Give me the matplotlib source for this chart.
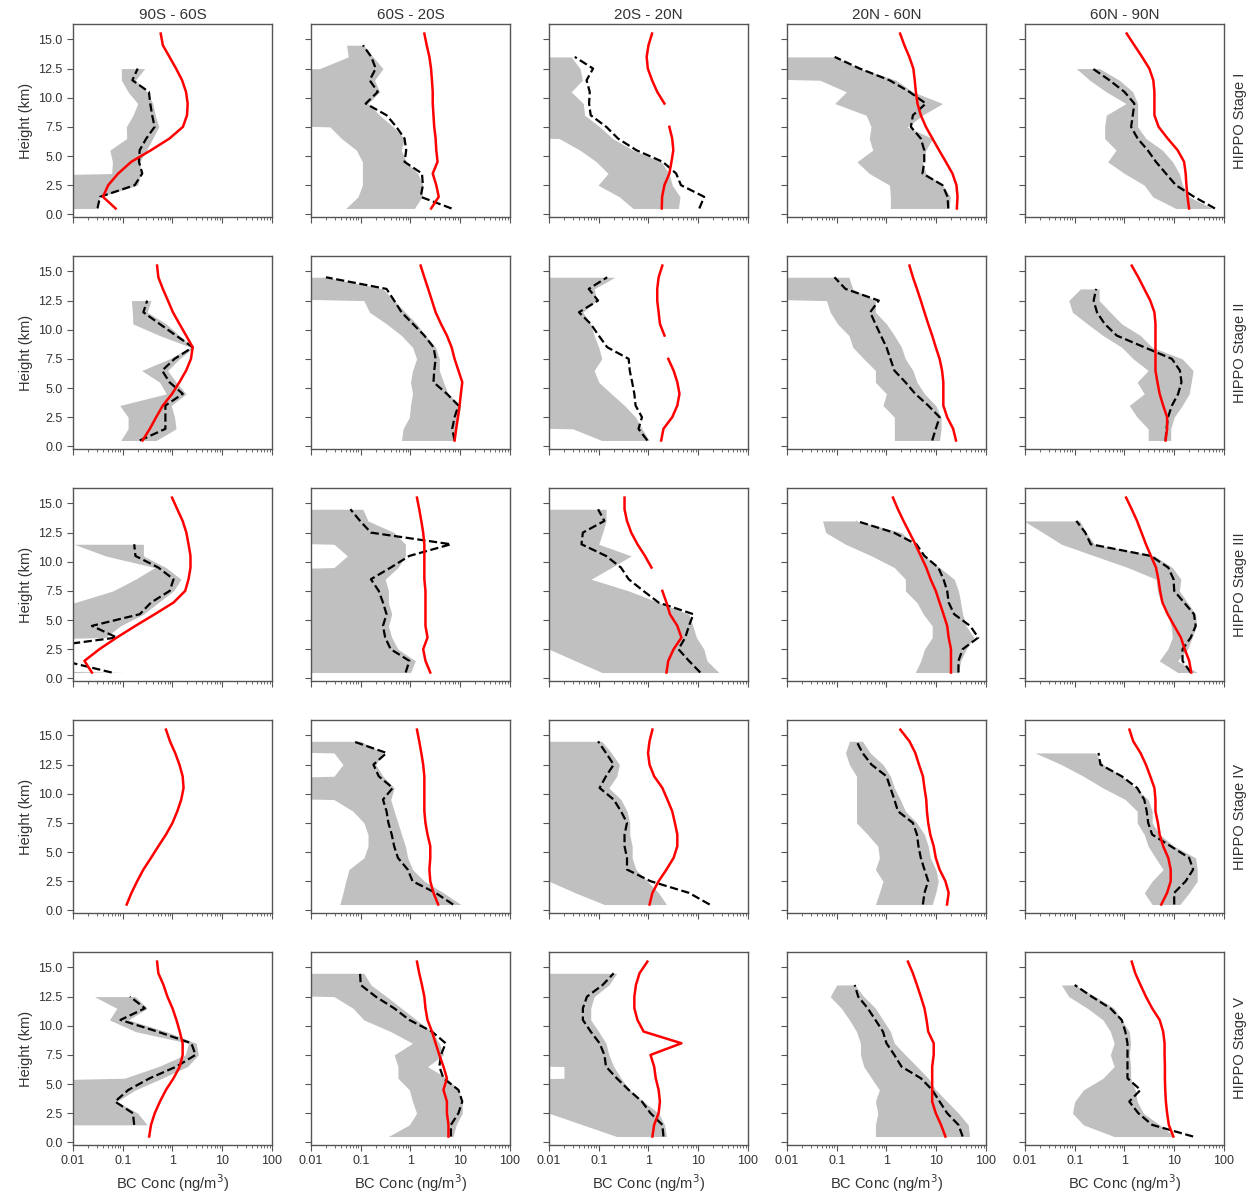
import numpy as np
import matplotlib
matplotlib.use("Agg")
import matplotlib.pyplot as plt
from matplotlib.ticker import LogLocator, NullFormatter

plt.rcParams['font.family'] = ['Liberation Sans', 'DejaVu Sans']

# =============================================================================
# DATA  (BC conc in ng/m3, listed from 0.5 km upward in 1 km steps)
# model: 0.5..15.5 km, obs/lo/hi: 0.5 km up to the top obs level
# 0 in lo/hi = below the axis range, None = missing
# =============================================================================
regions = ["90S - 60S", "60S - 20S", "20S - 20N", "20N - 60N", "60N - 90N"]
stages = ["HIPPO Stage I", "HIPPO Stage II", "HIPPO Stage III",
          "HIPPO Stage IV", "HIPPO Stage V"]

# ---- Stage I
model_I = [
    [0.072, 0.040, 0.051, 0.081, 0.148, 0.37, 0.87, 1.62, 1.96, 2.02, 1.87, 1.56, 1.18, 0.87, 0.64, 0.58],
    [2.6, 3.7, 3.3, 2.8, 3.5, 3.3, 3.2, 3.0, 2.9, 2.8, 2.8, 2.7, 2.59, 2.4, 2.12, 1.9],
    [1.85, 1.88, 2.09, 2.63, 2.9, 3.16, 3.0, 2.63, None, 2.09, 1.5, 1.18, 0.97, 0.92, 1.0, 1.18],
    [26, 26.8, 25.5, 21.2, 15.6, 11.4, 8.4, 6.2, 4.9, 4.2, 3.9, 3.7, 3.47, 2.88, 2.29, 1.88],
    [19.9, 18.5, 17.6, 17.0, 15.8, 11.7, 7.4, 4.86, 4.0, 4.0, 4.0, 3.8, 3.16, 2.26, 1.58, 1.11],
]
obs_I = [
    [0.031, 0.035, 0.174, 0.247, 0.212, 0.219, 0.297, 0.437, 0.39, 0.357, 0.336, 0.156, 0.20],
    [6.7, 1.6, 1.78, 1.7, 0.76, 0.82, 0.76, 0.52, 0.33, 0.126, 0.22, 0.151, 0.20, 0.163, 0.111],
    [10.5, 13.2, 4.5, 3.6, 1.94, 0.57, 0.244, 0.142, 0.069, 0.064, 0.066, 0.057, 0.077, 0.033],
    [17.5, 16.9, 13.4, 5.3, 5.75, 5.75, 4.9, 3.1, 3.4, 6.2, 2.9, 1.15, 0.29, 0.091],
    [66, 25.1, 10.8, 6.8, 4.3, 2.93, 1.84, 1.36, 1.47, 1.58, 1.0, 0.5, 0.23],
]
lo_I = [
    [0, 0, 0, 0.06, 0.062, 0.055, 0.12, 0.118, 0.161, 0.20, 0.128, 0.094, 0.094],
    [0.05, 0.088, 0.108, 0.108, 0.108, 0.082, 0.041, 0.024, 0, 0, 0, 0, 0.015, 0.056, 0.052],
    [0.49, 0.26, 0.097, 0.154, 0.09, 0.042, 0.016, 0, 0, 0, 0, 0, 0, 0],
    [1.2, 1.2, 1.15, 0.45, 0.255, 0.53, 0.45, 0.49, 0.39, 0.091, 0.156, 0.046, 0, 0],
    [10.8, 3.7, 2.5, 1.0, 0.46, 0.68, 0.4, 0.4, 0.43, 1.08, 0.43, 0.2, 0.108],
]
hi_I = [
    [0.028, 0.035, 0.20, 0.23, 0.22, 0.30, 0.40, 0.53, 0.45, 0.40, 0.31, 0.18, 0.276],
    [1.2, 1.7, 1.78, 1.4, 0.82, 0.65, 0.76, 0.45, 0.24, 0.14, 0.24, 0.19, 0.28, 0.177, 0.115],
    [4.0, 4.3, 3.0, 2.6, 1.8, 0.49, 0.19, 0.105, 0.052, 0.049, 0.028, 0.047, 0.042, 0.028],
    [18, 19.4, 13.4, 6.2, 5.3, 6.2, 8.4, 2.6, 5.3, 13.4, 3.4, 1.56, 0.29, 0.091],
    [58, 20, 14.7, 12.6, 9.3, 5.8, 2.7, 1.84, 1.84, 1.84, 1.47, 0.79, 0.316],
]

# ---- Stage II
model_II = [
    [0.25, 0.35, 0.47, 0.64, 0.98, 1.38, 1.88, 2.35, 2.55, 1.88, 1.38, 1.02, 0.81, 0.64, 0.52, 0.49],
    [7.7, 8.3, 9.0, 9.7, 10.3, 11, 9.2, 7.7, 6.7, 5.4, 4.1, 3.2, 2.7, 2.27, 1.9, 1.6],
    [1.8, 2.0, 3.0, 3.8, 4.2, 3.8, 3.2, 2.5, None, 2.1, 1.7, 1.6, 1.5, 1.5, 1.6, 1.9],
    [25, 21.9, 16.6, 13.9, 13.9, 13.9, 13.1, 11.7, 9.8, 8.3, 6.9, 5.8, 4.9, 4.1, 3.4, 2.9],
    [6.7, 7.2, 7.2, 6.0, 5.1, 4.6, 4.2, 4.2, 4.2, 4.2, 4.2, 4.0, 3.3, 2.5, 1.9, 1.4],
]
obs_II = [
    [0.22, 0.72, 0.72, 0.72, 1.61, 0.87, 0.62, 1.1, 2.55, 1.18, 0.55, 0.26, 0.31],
    [7.7, 6.9, 7.7, 9.2, 5.4, 2.9, 3.0, 3.2, 2.9, 1.9, 1.12, 0.66, 0.47, 0.33, 0.02],
    [0.95, 0.63, 0.74, 0.55, 0.52, 0.47, 0.42, 0.4, 0.148, 0.1, 0.069, 0.04, 0.097, 0.063, 0.148],
    [8.3, 9.8, 11.7, 6.9, 3.8, 2.4, 1.44, 1.2, 1.0, 0.77, 0.6, 0.47, 0.7, 0.15, 0.09],
    [6.7, 7.0, 7.5, 9, 12, 14, 13, 9, 2.5, 0.7, 0.40, 0.28, 0.24, 0.27],
]
lo_II = [
    [0.091, 0.128, 0.128, 0.087, 0.75, 0.55, 0.24, 0.87, 2.3, 0.55, 0.16, 0.156, 0.149],
    [0.66, 0.71, 0.95, 1.0, 1.1, 1.0, 1.1, 1.33, 1.1, 0.66, 0.33, 0.15, 0.115, 0, 0],
    [0.115, 0.03, 0, 0, 0, 0, 0, 0, 0, 0, 0, 0, 0, 0, 0],
    [1.44, 1.44, 1.44, 0.85, 1.0, 0.6, 0.6, 0.35, 0.21, 0.176, 0.104, 0.074, 0.062, 0, 0],
    [3.0, 3.0, 1.8, 1.25, 2.5, 1.8, 3.0, 1.5, 0.88, 0.37, 0.18, 0.09, 0.076, 0.13],
]
hi_II = [
    [0.47, 1.18, 1.1, 0.94, 1.88, 1.18, 0.8, 1.38, 2.7, 1.38, 0.75, 0.31, 0.37],
    [7.7, 8.3, 9.2, 10.3, 5.7, 4.6, 3.8, 3.8, 3.2, 2.0, 1.33, 0.79, 0.47, 0.28, 0.02],
    [1.03, 0.74, 0.55, 0.33, 0.18, 0.1, 0.081, 0.115, 0.1, 0.081, 0.069, 0.048, 0.09, 0.081, 0.21],
    [11.7, 12.5, 12.5, 9.8, 5.8, 4.1, 3.4, 2.4, 2.0, 1.44, 1.0, 0.6, 0.6, 0.21, 0.176],
    [8.5, 8.5, 10, 14.5, 20, 22, 24, 14.5, 3.6, 2.1, 0.88, 0.52, 0.31, 0.31],
]

# ---- Stage III
model_III = [
    [0.024, 0.017, 0.034, 0.076, 0.18, 0.44, 1.05, 1.8, 2.1, 2.3, 2.3, 2.1, 1.9, 1.6, 1.25, 0.98],
    [2.5, 2.0, 1.8, 2.2, 2.0, 2.0, 2.0, 2.0, 1.9, 1.9, 1.9, 1.9, 1.8, 1.65, 1.5, 1.35],
    [2.3, 2.5, 3.2, 4.6, 3.8, 2.7, 2.3, 1.9, None, 1.15, 0.85, 0.6, 0.45, 0.37, 0.33, 0.33],
    [19.8, 19.8, 19.8, 17.8, 16.6, 14, 11.7, 9.8, 7.7, 6.3, 4.9, 3.8, 2.9, 2.2, 1.7, 1.35],
    [22, 20, 16.3, 13.6, 10, 7.4, 5.8, 5.2, 4.8, 4.3, 3.4, 2.7, 2.2, 1.79, 1.4, 1.08],
]
obs_III = [
    [0.06, 0.0064, 0.0013, 0.076, 0.024, 0.22, 0.37, 0.88, 1.05, 0.52, 0.18, 0.17],
    [0.8, 0.95, 0.4, 0.31, 0.28, 0.33, 0.28, 0.23, 0.16, 0.4, 0.95, 6.5, 0.16, 0.097, 0.062],
    [11, 6.5, 4.0, 5.5, 6.5, 8, 1.6, 0.79, 0.4, 0.28, 0.14, 0.045, 0.048, 0.13, 0.097],
    [28, 28, 34, 70, 48, 23, 17.8, 16.6, 14, 11, 5.8, 4.0, 1.4, 0.25],
    [21.5, 14.7, 14.7, 21.5, 27, 25, 15.8, 10, 9.7, 7.6, 3.4, 0.21, 0.163, 0.108],
]
lo_III = [
    [0, 0, 0, 0, 0, 0, 0.011, 0.064, 0.18, 0.44, 0.045, 0.0105],
    [0, 0, 0, 0, 0, 0, 0, 0, 0, 0.029, 0.054, 0.029, 0, 0, 0],
    [0.116, 0.034, 0.01, 0, 0, 0, 0, 0, 0, 0, 0, 0, 0, 0, 0],
    [3.8, 4.9, 5.8, 8.3, 8.3, 5.5, 4.1, 2.4, 2.4, 1.44, 0.5, 0.15, 0.06, 0.052],
    [11.7, 5.0, 7.4, 9.2, 8.6, 7.4, 5.4, 4.6, 4.3, 1.17, 0.25, 0.054, 0.023, 0.0095],
]
hi_III = [
    [0.11, 0, 0, 0.045, 0.09, 0.26, 0.52, 1.05, 1.48, 0.74, 0.26, 0.26],
    [1.0, 1.25, 0.56, 0.42, 0.36, 0.42, 0.36, 0.36, 0.31, 0.56, 0.79, 0.79, 0.47, 0.14, 0.11],
    [26, 15, 13, 9.2, 7.8, 6.5, 1.6, 0.4, 0.07, 0.18, 0.45, 0.1, 0.12, 0.14, 0.14],
    [28, 31, 40, 57, 40, 34, 31, 28, 23, 11.7, 5.8, 3.5, 2.0, 0.25],
    [29, 11.7, 18.5, 23, 28, 27, 18.5, 12.7, 13.6, 9.2, 4.0, 0.25, 0.17, 0.126],
]

# ---- Stage IV
model_IV = [
    [0.12, 0.15, 0.195, 0.26, 0.37, 0.52, 0.74, 1.0, 1.25, 1.5, 1.67, 1.6, 1.38, 1.13, 0.89, 0.74],
    [3.6, 2.9, 2.5, 2.4, 2.5, 2.5, 2.2, 2.0, 1.9, 1.9, 1.9, 1.9, 1.8, 1.65, 1.5, 1.35],
    [1.05, 1.2, 1.6, 2.3, 3.2, 3.8, 3.8, 3.4, 3.0, 2.4, 1.9, 1.3, 1.05, 0.98, 1.05, 1.2],
    [16.5, 17.8, 15.3, 11.7, 9.8, 8.9, 7.6, 6.9, 6.5, 6.3, 5.8, 5.4, 4.5, 3.8, 2.9, 1.9],
    [5.5, 7.2, 8.5, 8.5, 7.6, 6.0, 5.1, 4.7, 4.2, 4.2, 4.0, 3.3, 2.7, 2.1, 1.5, 1.26],
]
obs_IV = [
    [],
    [7.2, 3.2, 1.1, 0.88, 0.56, 0.47, 0.42, 0.36, 0.33, 0.28, 0.44, 0.23, 0.18, 0.33, 0.07],
    [17, 6.5, 1.1, 0.37, 0.37, 0.33, 0.33, 0.37, 0.28, 0.2, 0.104, 0.14, 0.2, 0.14, 0.097],
    [5.4, 5.8, 6.9, 5.8, 4.9, 4.4, 4.1, 3.4, 1.7, 1.44, 1.2, 1.0, 0.5, 0.33, 0.25],
    [10, 10, 17, 24, 20, 8.5, 3.6, 3.0, 2.8, 2.5, 1.8, 0.88, 0.33, 0.3],
]
lo_IV = [
    [],
    [0.038, 0.044, 0.05, 0.058, 0.116, 0.14, 0.14, 0.116, 0.07, 0.029, 0, 0.029, 0.044, 0.029, 0],
    [0.13, 0.034, 0.01, 0, 0, 0, 0, 0, 0, 0, 0, 0, 0, 0, 0],
    [0.6, 0.72, 0.85, 0.6, 0.72, 0.67, 0.42, 0.25, 0.25, 0.25, 0.25, 0.25, 0.18, 0.15, 0.18],
    [3.6, 2.5, 3.6, 6.0, 4.2, 3.0, 2.5, 1.8, 1.8, 1.04, 0.37, 0.15, 0.054, 0.016],
]
hi_IV = [
    [],
    [10.3, 4.6, 1.9, 1.1, 0.88, 0.79, 0.66, 0.56, 0.47, 0.4, 0.47, 0.28, 0.2, 0.28, 0.1],
    [2.3, 1.6, 0.95, 0.56, 0.47, 0.47, 0.42, 0.42, 0.37, 0.28, 0.16, 0.23, 0.26, 0.18, 0.115],
    [8.3, 9.8, 11, 9.8, 7.6, 6.9, 5.8, 4.1, 2.4, 1.9, 1.44, 1.2, 0.85, 0.47, 0.33],
    [13, 20, 29, 29, 27, 10, 5.1, 3.6, 3.6, 3.0, 1.65, 0.88, 0.37, 0.26],
]

# ---- Stage V
model_V = [
    [0.34, 0.37, 0.44, 0.56, 0.74, 1.05, 1.4, 1.6, 1.6, 1.4, 1.2, 1.0, 0.79, 0.66, 0.52, 0.49],
    [5.8, 5.8, 5.4, 5.4, 4.6, 5.4, 4.6, 3.8, 3.2, 2.7, 2.2, 2.0, 1.9, 1.7, 1.5, 1.35],
    [1.2, 1.3, 1.6, 1.7, 1.6, 1.4, 1.3, 1.1, 4.6, 0.8, 0.6, 0.52, 0.52, 0.56, 0.66, 0.95],
    [15.3, 12.5, 9.8, 8.3, 8.3, 8.3, 8.3, 8.9, 8.9, 6.9, 6.4, 5.8, 4.9, 4.1, 3.4, 2.7],
    [9.6, 7.8, 7.2, 6.8, 6.6, 6.5, 6.5, 6.4, 6.4, 6.0, 5.1, 3.6, 2.7, 2.1, 1.65, 1.4],
]
obs_V = [
    [None, 0.17, 0.16, 0.07, 0.13, 0.35, 1.2, 2.9, 2.4, 0.5, 0.09, 0.28, 0.14],
    [6.5, 6.5, 9.2, 11, 9.2, 4.6, 3.8, 4.1, 5.1, 2.7, 0.95, 0.47, 0.2, 0.1, 0.097],
    [2.0, 1.9, 1.1, 0.74, 0.4, 0.23, 0.14, 0.13, 0.104, 0.069, 0.048, 0.048, 0.058, 0.12, 0.2],
    [34, 28, 16.6, 11.7, 8.3, 4.9, 2.0, 1.44, 1.0, 0.85, 0.6, 0.42, 0.27, 0.23],
    [24, 3.6, 1.9, 1.25, 2.1, 1.15, 1.15, 1.15, 1.15, 1.04, 0.88, 0.52, 0.22, 0.1],
]
lo_V = [
    [None, 0, 0, 0, 0, 0.108, 0.52, 1.8, 2.1, 0.18, 0.054, 0.076, 0.027],
    [0.36, 0.95, 1.33, 1.1, 0.95, 0.56, 0.56, 0.47, 1.1, 0.4, 0.116, 0.07, 0.029, 0, 0],
    [0.23, 0.048, 0.01, 0, 0, 0.02, 0.02, 0, 0, 0, 0, 0, 0, 0, 0],
    [0.6, 0.6, 0.67, 0.6, 0.72, 0.5, 0.35, 0.3, 0.3, 0.25, 0.18, 0.124, 0.074, 0.1],
    [0.62, 0.15, 0.09, 0.1, 0.15, 0.37, 0.62, 0.52, 0.62, 0.52, 0.37, 0.18, 0.076, 0.054],
]
hi_V = [
    [None, 0.31, 0.2, 0.076, 0.18, 0.62, 2.0, 3.3, 3.0, 0.74, 0.13, 0.31, 0.18],
    [7.2, 8.3, 11, 11, 9.2, 5.4, 2.2, 4.6, 3.8, 2.7, 1.33, 0.66, 0.33, 0.16, 0.116],
    [2.3, 2.1, 1.6, 0.79, 0.42, 0.28, 0.2, 0.16, 0.14, 0.1, 0.069, 0.069, 0.081, 0.16, 0.23],
    [47, 44, 28, 16.6, 9.8, 6.9, 4.1, 2.4, 1.44, 1.2, 0.85, 0.6, 0.35, 0.23],
    [10, 5.1, 2.4, 1.8, 1.65, 1.33, 1.33, 1.25, 1.33, 1.25, 0.88, 0.62, 0.26, 0.1],
]

models = [model_I, model_II, model_III, model_IV, model_V]
obss = [obs_I, obs_II, obs_III, obs_IV, obs_V]
los = [lo_I, lo_II, lo_III, lo_IV, lo_V]
his = [hi_I, hi_II, hi_III, hi_IV, hi_V]


def arr(v):
    a = np.array([np.nan if x is None else x for x in v], dtype=float)
    return a


def floor_small(a):
    # values below the axis are drawn as (almost) zero on the log axis
    return np.where(a <= 0, 1e-12, a)


spine_c = '#555555'
text_c = '#333333'

fig, axes = plt.subplots(5, 5, figsize=(12.52, 11.95), dpi=100)
plt.subplots_adjust(left=0.0583, right=0.9776, bottom=0.0421, top=0.9797,
                    wspace=0.196, hspace=0.206)

for r in range(5):
    for c in range(5):
        ax = axes[r, c]
        mod = arr(models[r][c])
        hmod = np.arange(len(mod)) + 0.5
        ob = arr(obss[r][c])
        lo = arr(los[r][c])
        hi = arr(his[r][c])
        hob = np.arange(len(ob)) + 0.5

        if len(ob) > 0:
            ax.fill_betweenx(hob, floor_small(lo), floor_small(hi),
                             color='silver', lw=0, zorder=1)
            ax.plot(ob, hob, '--', color='black', lw=1.6, zorder=2)
        ax.plot(mod, hmod, '-', color='red', lw=1.8, zorder=3)

        ax.set_xscale('log')
        ax.set_xlim(0.01, 100)
        ax.set_ylim(-0.2, 16.3)
        ax.set_yticks(np.arange(0, 15.1, 2.5))
        ax.set_xticks([0.01, 0.1, 1, 10, 100])
        ax.xaxis.set_minor_locator(LogLocator(base=10, subs=np.arange(2, 10), numticks=20))
        ax.xaxis.set_minor_formatter(NullFormatter())

        for s in ax.spines.values():
            s.set_color(spine_c)
            s.set_linewidth(1.0)
        ax.tick_params(axis='both', which='major', direction='out', length=4,
                       width=0.8, color=spine_c, labelsize=9, labelcolor=text_c)
        ax.tick_params(axis='x', which='minor', direction='out', length=2,
                       width=0.6, color=spine_c)

        if c == 0:
            ax.set_yticklabels(["%.1f" % v for v in np.arange(0, 15.1, 2.5)])
            ax.set_ylabel("Height (km)", fontsize=10.5, color=text_c)
        else:
            ax.tick_params(axis='y', labelleft=False)
        if r == 4:
            ax.set_xticklabels(["0.01", "0.1", "1", "10", "100"])
            ax.set_xlabel("BC Conc (ng/m$^3$)", fontsize=10.5, color=text_c)
        else:
            ax.tick_params(axis='x', labelbottom=False)
        if r == 0:
            ax.set_title(regions[c], fontsize=11, color=text_c, pad=4)
        if c == 4:
            ax.text(1.08, 0.5, stages[r], transform=ax.transAxes, rotation=90,
                    ha='center', va='center', fontsize=10.5, color=text_c)

plt.savefig("out.png", dpi=100)
